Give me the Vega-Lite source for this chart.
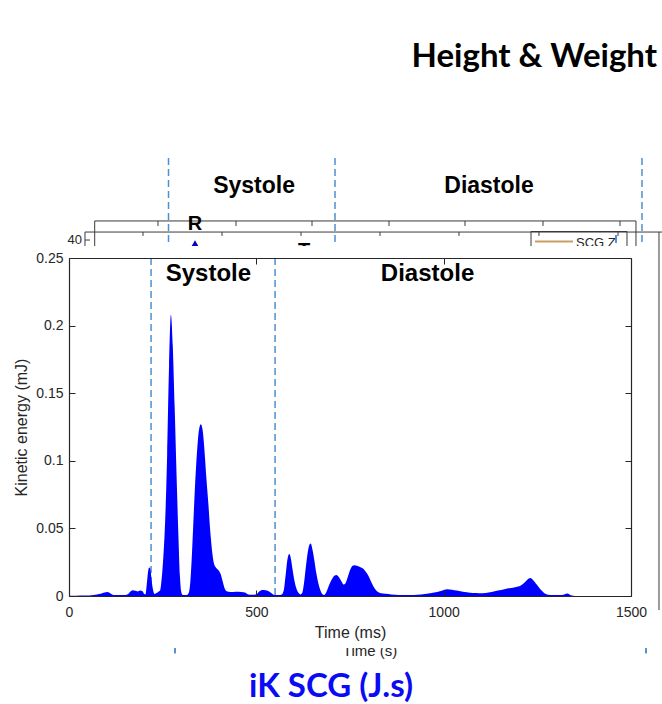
{
  "$schema": "https://vega.github.io/schema/vega-lite/v6.json",
  "width": 562,
  "height": 338,
  "autosize": {"type": "none"},
  "padding": {"left": 69, "top": 258, "right": 31, "bottom": 108},
  "background": "white",
  "config": {
    "view": {"stroke": null},
    "axis": {
      "grid": false, "labelFlush": false,
      "domainColor": "#262626", "tickColor": "#262626", "labelColor": "#262626", "titleColor": "#262626",
      "labelFont": "Liberation Sans", "titleFont": "Liberation Sans",
      "labelFontSize": 14, "titleFontSize": 16, "titleFontWeight": "normal",
      "tickSize": -6, "domainWidth": 1.2, "tickWidth": 1
    }
  },
  "datasets": {
    "ke": [
      {"t":0,"ke":0.0002},{"t":20,"ke":0.0002},{"t":40,"ke":0.0003},{"t":55,"ke":0.0004},{"t":65,"ke":0.0008},
      {"t":75,"ke":0.0012},{"t":85,"ke":0.0016},{"t":95,"ke":0.0025},{"t":102,"ke":0.0029},{"t":109,"ke":0.0022},
      {"t":115,"ke":0.0012},{"t":122,"ke":0.0008},{"t":135,"ke":0.0007},{"t":150,"ke":0.0008},{"t":158,"ke":0.0015},
      {"t":164,"ke":0.0033},{"t":170,"ke":0.0042},{"t":177,"ke":0.0038},{"t":183,"ke":0.0034},{"t":190,"ke":0.004},
      {"t":196,"ke":0.0035},{"t":201,"ke":0.0015},{"t":204,"ke":0.0012},{"t":208,"ke":0.01},{"t":211,"ke":0.018},
      {"t":214,"ke":0.021},{"t":217,"ke":0.02},{"t":220,"ke":0.013},{"t":224,"ke":0.005},{"t":228,"ke":0.0015},
      {"t":232,"ke":0.002},{"t":238,"ke":0.003},{"t":243,"ke":0.004},{"t":247,"ke":0.012},{"t":252,"ke":0.03},
      {"t":257,"ke":0.058},{"t":262,"ke":0.105},{"t":267,"ke":0.17},{"t":272,"ke":0.208},{"t":277,"ke":0.185},
      {"t":282,"ke":0.14},{"t":287,"ke":0.09},{"t":292,"ke":0.045},{"t":296,"ke":0.015},{"t":299,"ke":0.004},
      {"t":303,"ke":0.0008},{"t":315,"ke":0.0008},{"t":319,"ke":0.002},{"t":323,"ke":0.008},{"t":327,"ke":0.025},
      {"t":332,"ke":0.055},{"t":337,"ke":0.085},{"t":342,"ke":0.108},{"t":347,"ke":0.123},{"t":352,"ke":0.127},
      {"t":357,"ke":0.122},{"t":362,"ke":0.106},{"t":367,"ke":0.086},{"t":372,"ke":0.068},{"t":377,"ke":0.048},
      {"t":382,"ke":0.033},{"t":387,"ke":0.024},{"t":392,"ke":0.021},{"t":399,"ke":0.019},{"t":405,"ke":0.016},
      {"t":410,"ke":0.011},{"t":415,"ke":0.006},{"t":421,"ke":0.0035},{"t":430,"ke":0.003},{"t":445,"ke":0.0032},
      {"t":460,"ke":0.003},{"t":470,"ke":0.0025},{"t":478,"ke":0.0012},{"t":490,"ke":0.001},{"t":500,"ke":0.0012},
      {"t":506,"ke":0.003},{"t":513,"ke":0.0042},{"t":520,"ke":0.0045},{"t":530,"ke":0.0038},{"t":538,"ke":0.0025},
      {"t":545,"ke":0.0012},{"t":550,"ke":0.0008},{"t":560,"ke":0.0008},{"t":568,"ke":0.0012},{"t":573,"ke":0.004},
      {"t":578,"ke":0.015},{"t":583,"ke":0.027},{"t":588,"ke":0.031},{"t":592,"ke":0.028},{"t":597,"ke":0.019},
      {"t":602,"ke":0.011},{"t":607,"ke":0.0055},{"t":612,"ke":0.0025},{"t":618,"ke":0.0012},{"t":622,"ke":0.002},
      {"t":627,"ke":0.009},{"t":632,"ke":0.021},{"t":637,"ke":0.032},{"t":642,"ke":0.038},{"t":645,"ke":0.0388},
      {"t":650,"ke":0.034},{"t":655,"ke":0.026},{"t":660,"ke":0.017},{"t":665,"ke":0.01},{"t":670,"ke":0.005},
      {"t":676,"ke":0.0015},{"t":681,"ke":0.0008},{"t":687,"ke":0.003},{"t":694,"ke":0.008},{"t":701,"ke":0.012},
      {"t":708,"ke":0.015},{"t":714,"ke":0.0155},{"t":720,"ke":0.014},{"t":727,"ke":0.011},{"t":733,"ke":0.0085},
      {"t":738,"ke":0.0095},{"t":744,"ke":0.014},{"t":750,"ke":0.019},{"t":756,"ke":0.0222},{"t":762,"ke":0.0228},
      {"t":770,"ke":0.0222},{"t":778,"ke":0.0212},{"t":786,"ke":0.02},{"t":792,"ke":0.018},{"t":798,"ke":0.0155},
      {"t":804,"ke":0.012},{"t":810,"ke":0.0085},{"t":816,"ke":0.0055},{"t":822,"ke":0.0035},{"t":830,"ke":0.0022},
      {"t":845,"ke":0.0016},{"t":860,"ke":0.0012},{"t":880,"ke":0.0008},{"t":900,"ke":0.0007},{"t":920,"ke":0.0008},
      {"t":940,"ke":0.0011},{"t":960,"ke":0.0018},{"t":975,"ke":0.0025},{"t":990,"ke":0.0035},{"t":1000,"ke":0.0045},
      {"t":1010,"ke":0.005},{"t":1022,"ke":0.0046},{"t":1035,"ke":0.004},{"t":1048,"ke":0.0034},{"t":1062,"ke":0.0027},
      {"t":1078,"ke":0.0022},{"t":1095,"ke":0.0021},{"t":1112,"ke":0.0023},{"t":1128,"ke":0.003},{"t":1145,"ke":0.004},
      {"t":1162,"ke":0.005},{"t":1180,"ke":0.006},{"t":1196,"ke":0.0068},{"t":1208,"ke":0.0082},{"t":1218,"ke":0.0105},
      {"t":1226,"ke":0.0128},{"t":1232,"ke":0.0134},{"t":1238,"ke":0.012},{"t":1246,"ke":0.0092},{"t":1254,"ke":0.0065},
      {"t":1262,"ke":0.0038},{"t":1270,"ke":0.0018},{"t":1278,"ke":0.001},{"t":1295,"ke":0.0008},{"t":1310,"ke":0.0008},
      {"t":1322,"ke":0.0012},{"t":1330,"ke":0.0018},{"t":1336,"ke":0.0012},{"t":1342,"ke":0.0003},{"t":1350,"ke":0},
      {"t":1500,"ke":0}
    ],
    "phases": [{"t": 219}, {"t": 550}],
    "phaseLabels": [
      {"label": "Systole", "t": 372, "ke": 0.233},
      {"label": "Diastole", "t": 957, "ke": 0.233}
    ],
    "bgDash": [
      {"x": 265.6, "y": 0.324, "y2": 0.25},
      {"x": 710, "y": 0.324, "y2": 0.25},
      {"x": 1529.3, "y": 0.324, "y2": 0.25}
    ],
    "bgHeads": [
      {"label": "Systole", "x": 494, "y": 0.2981},
      {"label": "Diastole", "x": 1121, "y": 0.2981}
    ],
    "bgMarks": [
      {"label": "R", "x": 336.3, "y": 0.2707},
      {"label": "T", "x": 627.2, "y": 0.2505}
    ],
    "bgPeak": [{"x": 336.3, "y": 0.2604}],
    "bgSeg": [
      {"x":68.6,"x2":1513.3,"y":0.2774,"y2":0.2774},
      {"x":68.6,"x2":68.6,"y":0.2774,"y2":0.25},
      {"x":1513.3,"x2":1513.3,"y":0.2774,"y2":0.25},
      {"x":237.5,"x2":237.5,"y":0.2774,"y2":0.2737},
      {"x":445.7,"x2":445.7,"y":0.2774,"y2":0.2737},
      {"x":648.6,"x2":648.6,"y":0.2774,"y2":0.2737},
      {"x":854.1,"x2":854.1,"y":0.2774,"y2":0.2737},
      {"x":1056.9,"x2":1056.9,"y":0.2774,"y2":0.2737},
      {"x":1265.1,"x2":1265.1,"y":0.2774,"y2":0.2737},
      {"x":1470.6,"x2":1470.6,"y":0.2774,"y2":0.2737},
      {"x":42.7,"x2":1586,"y":0.2692,"y2":0.2692},
      {"x":42.7,"x2":42.7,"y":0.2692,"y2":0.25},
      {"x":197.5,"x2":197.5,"y":0.2692,"y2":0.2663},
      {"x":408.4,"x2":408.4,"y":0.2692,"y2":0.2663},
      {"x":619.2,"x2":619.2,"y":0.2692,"y2":0.2663},
      {"x":830.1,"x2":830.1,"y":0.2692,"y2":0.2663},
      {"x":1040.9,"x2":1040.9,"y":0.2692,"y2":0.2663},
      {"x":1254.4,"x2":1254.4,"y":0.2692,"y2":0.2663},
      {"x":1465.3,"x2":1465.3,"y":0.2692,"y2":0.2663},
      {"x":42.7,"x2":56,"y":0.2633,"y2":0.2633},
      {"x":1574.7,"x2":1574.7,"y":0.2692,"y2":-0.0104},
      {"x":1233.1,"x2":1489.3,"y":0.2696,"y2":0.2696},
      {"x":1233.1,"x2":1233.1,"y":0.2696,"y2":0.25},
      {"x":1489.3,"x2":1489.3,"y":0.2696,"y2":0.25}
    ],
    "bgAccent": [
      {"x":1243.8,"x2":1345.2,"y":0.2622,"y2":0.2622,"kind":"SCG Z"},
      {"x":1460,"x2":1460,"y":0.267,"y2":0.2611,"kind":"marker"},
      {"x":282.9,"x2":282.9,"y":-0.0385,"y2":-0.0425,"kind":"marker"},
      {"x":1540,"x2":1540,"y":-0.0385,"y2":-0.0425,"kind":"marker"}
    ],
    "bgTick": [{"label": "40", "x": 34.7, "y": 0.2633}],
    "bgLegend": [{"label": "SCG Z", "x": 1353.2, "y": 0.2581}],
    "bgAxisTitle": [{"label": "Time (s)", "x": 803.4, "y": -0.0444}],
    "cover": [{"x": -200, "x2": 1564, "y": 0.2589, "y2": -0.0385}],
    "slideTitle": [{"label": "Height & Weight", "x": 1569.4, "y": 0.3913}],
    "slideCaption": [{"label": "iK SCG (J.s)", "x": 699.3, "y": -0.0747}]
  },
  "resolve": {"axis": {"x": "independent", "y": "independent"}},
  "layer": [
    {
      "data": {"name": "bgDash"},
      "mark": {"type": "rule", "color": "#4f8fcf", "strokeWidth": 1.5, "strokeDash": [7, 4]},
      "encoding": {
        "x": {"field": "x", "type": "quantitative", "scale": {"domain": [0, 1500], "nice": false}, "axis": null},
        "y": {"field": "y", "type": "quantitative", "scale": {"domain": [0, 0.25], "nice": false, "zero": false}, "axis": null},
        "y2": {"field": "y2"}
      }
    },
    {
      "data": {"name": "bgSeg"},
      "mark": {"type": "rule", "color": "#3a3a3a", "strokeWidth": 1},
      "encoding": {
        "x": {"field": "x", "type": "quantitative", "scale": {"domain": [0, 1500], "nice": false}, "axis": null},
        "x2": {"field": "x2"},
        "y": {"field": "y", "type": "quantitative", "scale": {"domain": [0, 0.25], "nice": false, "zero": false}, "axis": null},
        "y2": {"field": "y2"}
      }
    },
    {
      "data": {"name": "bgAccent"},
      "mark": {"type": "rule", "strokeWidth": 2},
      "encoding": {
        "x": {"field": "x", "type": "quantitative", "scale": {"domain": [0, 1500], "nice": false}, "axis": null},
        "x2": {"field": "x2"},
        "y": {"field": "y", "type": "quantitative", "scale": {"domain": [0, 0.25], "nice": false, "zero": false}, "axis": null},
        "y2": {"field": "y2"},
        "color": {"field": "kind", "type": "nominal", "scale": {"domain": ["SCG Z", "marker"], "range": ["#c8a064", "#5a8fd0"]}, "legend": null}
      }
    },
    {
      "data": {"name": "bgHeads"},
      "mark": {"type": "text", "font": "Liberation Sans", "fontWeight": "bold", "fontSize": 23, "align": "center", "baseline": "alphabetic", "color": "#000000"},
      "encoding": {
        "x": {"field": "x", "type": "quantitative", "scale": {"domain": [0, 1500], "nice": false}, "axis": null},
        "y": {"field": "y", "type": "quantitative", "scale": {"domain": [0, 0.25], "nice": false, "zero": false}, "axis": null},
        "text": {"field": "label"}
      }
    },
    {
      "data": {"name": "bgMarks"},
      "mark": {"type": "text", "font": "Liberation Sans", "fontWeight": "bold", "fontSize": 20, "align": "center", "baseline": "alphabetic", "color": "#000000"},
      "encoding": {
        "x": {"field": "x", "type": "quantitative", "scale": {"domain": [0, 1500], "nice": false}, "axis": null},
        "y": {"field": "y", "type": "quantitative", "scale": {"domain": [0, 0.25], "nice": false, "zero": false}, "axis": null},
        "text": {"field": "label"}
      }
    },
    {
      "data": {"name": "bgPeak"},
      "mark": {"type": "point", "shape": "triangle-up", "filled": true, "size": 70, "color": "#0000c8", "opacity": 1},
      "encoding": {
        "x": {"field": "x", "type": "quantitative", "scale": {"domain": [0, 1500], "nice": false}, "axis": null},
        "y": {"field": "y", "type": "quantitative", "scale": {"domain": [0, 0.25], "nice": false, "zero": false}, "axis": null}
      }
    },
    {
      "data": {"name": "bgTick"},
      "mark": {"type": "text", "font": "Liberation Sans", "fontSize": 13, "align": "right", "baseline": "middle", "color": "#262626"},
      "encoding": {
        "x": {"field": "x", "type": "quantitative", "scale": {"domain": [0, 1500], "nice": false}, "axis": null},
        "y": {"field": "y", "type": "quantitative", "scale": {"domain": [0, 0.25], "nice": false, "zero": false}, "axis": null},
        "text": {"field": "label"}
      }
    },
    {
      "data": {"name": "bgLegend"},
      "mark": {"type": "text", "font": "Liberation Sans", "fontSize": 13, "align": "left", "baseline": "alphabetic", "color": "#262626"},
      "encoding": {
        "x": {"field": "x", "type": "quantitative", "scale": {"domain": [0, 1500], "nice": false}, "axis": null},
        "y": {"field": "y", "type": "quantitative", "scale": {"domain": [0, 0.25], "nice": false, "zero": false}, "axis": null},
        "text": {"field": "label"}
      }
    },
    {
      "data": {"name": "bgAxisTitle"},
      "mark": {"type": "text", "font": "Liberation Sans", "fontSize": 15, "align": "center", "baseline": "alphabetic", "color": "#262626"},
      "encoding": {
        "x": {"field": "x", "type": "quantitative", "scale": {"domain": [0, 1500], "nice": false}, "axis": null},
        "y": {"field": "y", "type": "quantitative", "scale": {"domain": [0, 0.25], "nice": false, "zero": false}, "axis": null},
        "text": {"field": "label"}
      }
    },
    {
      "data": {"name": "cover"},
      "mark": {"type": "rect", "color": "#ffffff", "opacity": 1},
      "encoding": {
        "x": {"field": "x", "type": "quantitative", "scale": {"domain": [0, 1500], "nice": false},
              "axis": {"orient": "top", "labels": false, "title": null, "values": [0, 500, 1000, 1500], "zindex": 2}},
        "x2": {"field": "x2"},
        "y": {"field": "y", "type": "quantitative", "scale": {"domain": [0, 0.25], "nice": false, "zero": false},
              "axis": {"orient": "right", "labels": false, "title": null, "values": [0, 0.05, 0.1, 0.15, 0.2, 0.25], "zindex": 2}},
        "y2": {"field": "y2"}
      }
    },
    {
      "data": {"name": "phases"},
      "mark": {"type": "rule", "color": "#4f8fcf", "strokeWidth": 1.5, "strokeDash": [7, 4]},
      "encoding": {
        "x": {"field": "t", "type": "quantitative", "scale": {"domain": [0, 1500], "nice": false}, "axis": null}
      }
    },
    {
      "data": {"name": "ke"},
      "mark": {"type": "area", "color": "#0000ff", "interpolate": "monotone", "opacity": 1},
      "encoding": {
        "x": {"field": "t", "type": "quantitative", "scale": {"domain": [0, 1500], "nice": false},
              "axis": {"orient": "bottom", "title": "Time (ms)", "values": [0, 500, 1000, 1500], "format": "d", "labelPadding": 15, "titlePadding": 5, "zindex": 2}},
        "y": {"field": "ke", "type": "quantitative", "scale": {"domain": [0, 0.25], "nice": false, "zero": false},
              "axis": {"orient": "left", "title": "Kinetic energy (mJ)", "values": [0, 0.05, 0.1, 0.15, 0.2, 0.25], "format": "~g", "labelPadding": 12, "titlePadding": 6, "zindex": 2}}
      }
    },
    {
      "data": {"name": "phaseLabels"},
      "mark": {"type": "text", "font": "Liberation Sans", "fontWeight": "bold", "fontSize": 24, "align": "center", "baseline": "alphabetic", "color": "#000000"},
      "encoding": {
        "x": {"field": "t", "type": "quantitative", "scale": {"domain": [0, 1500], "nice": false}, "axis": null},
        "y": {"field": "ke", "type": "quantitative", "scale": {"domain": [0, 0.25], "nice": false, "zero": false}, "axis": null},
        "text": {"field": "label"}
      }
    },
    {
      "data": {"name": "slideTitle"},
      "mark": {"type": "text", "font": "Lato", "fontWeight": "bold", "fontSize": 33, "align": "right", "baseline": "alphabetic", "color": "#000000"},
      "encoding": {
        "x": {"field": "x", "type": "quantitative", "scale": {"domain": [0, 1500], "nice": false}, "axis": null},
        "y": {"field": "y", "type": "quantitative", "scale": {"domain": [0, 0.25], "nice": false, "zero": false}, "axis": null},
        "text": {"field": "label"}
      }
    },
    {
      "data": {"name": "slideCaption"},
      "mark": {"type": "text", "font": "Lato", "fontWeight": "bold", "fontSize": 33, "align": "center", "baseline": "alphabetic", "color": "#0a0af5"},
      "encoding": {
        "x": {"field": "x", "type": "quantitative", "scale": {"domain": [0, 1500], "nice": false}, "axis": null},
        "y": {"field": "y", "type": "quantitative", "scale": {"domain": [0, 0.25], "nice": false, "zero": false}, "axis": null},
        "text": {"field": "label"}
      }
    }
  ]
}
